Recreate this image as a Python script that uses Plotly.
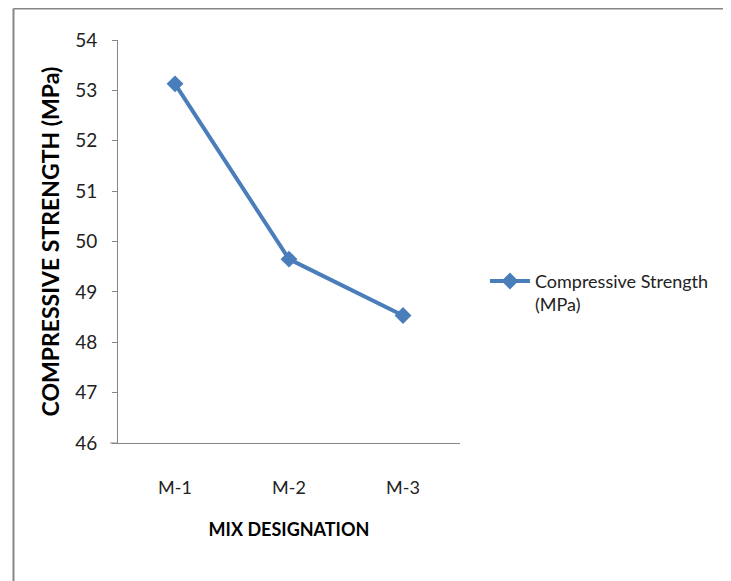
import plotly.graph_objects as go

categories = ["M-1", "M-2", "M-3"]
strength = [53.13, 49.65, 48.53]
series_name = "Compressive Strength<br>(MPa)"
y_ticks = [46, 47, 48, 49, 50, 51, 52, 53, 54]

blue = "#4A7EBB"
axis_gray = "#868686"
font_family = "Lato, 'Open Sans', sans-serif"

fig = go.Figure()
fig.add_trace(go.Scatter(
    x=categories, y=strength, name=series_name, mode="lines+markers",
    line=dict(color=blue, width=4),
    marker=dict(symbol="diamond", size=13, color=blue),
    showlegend=True,
))

fig.update_layout(
    width=731, height=581,
    margin=dict(l=110, r=279, t=32, b=146),
    paper_bgcolor="white", plot_bgcolor="white",
    font=dict(family=font_family, color="#000000", size=16),
    showlegend=True,
    legend=dict(x=1.073, xanchor="left", y=0.447, yanchor="top", valign="top",
                xref="paper", font=dict(size=18, family=font_family, color="#222"),
                bgcolor="rgba(0,0,0,0)", itemwidth=40, tracegroupgap=0),
    xaxis=dict(
        type="category", range=[-0.5, 2.5], automargin=False,
        showline=True, linecolor=axis_gray, linewidth=1,
        showgrid=False, ticks="", zeroline=False,
        tickfont=dict(size=18, family=font_family, color="#222"),
        ticklabelstandoff=28,
        title=dict(text="<b>MIX DESIGNATION</b>", font=dict(size=18, family=font_family), standoff=26),
    ),
    yaxis=dict(
        range=[46, 54], tickvals=y_ticks, automargin=False,
        showline=True, linecolor=axis_gray, linewidth=1,
        showgrid=False, ticks="outside", ticklen=5, tickcolor=axis_gray,
        zeroline=False, ticklabelstandoff=11,
        tickfont=dict(size=19, family=font_family, color="#222"),
    ),
    annotations=[
        dict(text="<b>COMPRESSIVE STRENGTH (MPa)</b>", xref="paper", yref="paper",
             x=-0.199, y=0.5, xanchor="center", yanchor="middle", textangle=-90,
             showarrow=False, font=dict(size=23, family=font_family, color="#000")),
    ],
    shapes=[
        # outer chart border (top and left visible)
        dict(type="line", xref="paper", yref="paper", x0=-0.3056, x1=1.8, y0=1.0782, y1=1.0782,
             line=dict(color=axis_gray, width=2), layer="above"),
        dict(type="line", xref="paper", yref="paper", x0=-0.3056, x1=-0.3056, y0=1.0782, y1=-0.5,
             line=dict(color=axis_gray, width=2), layer="above"),
        # x-axis line extension to the left
        dict(type="line", xref="paper", yref="paper", x0=-0.0234, x1=0, y0=0, y1=0,
             line=dict(color=axis_gray, width=1)),
    ],
)

fig.write_html("out.html")
